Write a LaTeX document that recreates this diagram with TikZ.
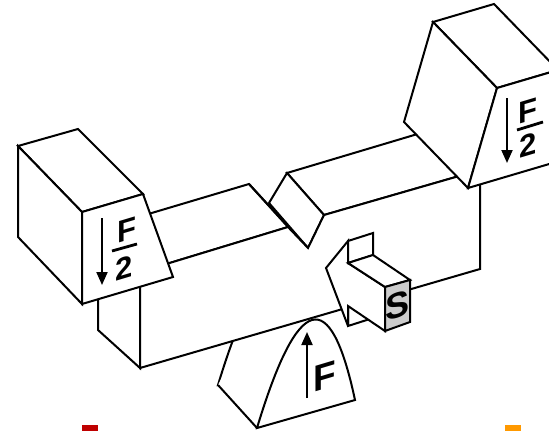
\documentclass[tikz,border=0pt]{standalone}
\usepackage{fontspec}
\setmainfont{Liberation Sans}
\usetikzlibrary{arrows.meta}
\begin{document}
\begin{tikzpicture}[x=1pt,y=-1pt,
  edge/.style={line width=2pt,line join=miter,miter limit=4},
  face/.style={edge,fill=white},
  force/.style={line width=2pt,-{Triangle[length=13pt,width=11pt]}},
  lbl/.style={font=\bfseries\fontsize{31}{31}\selectfont,inner sep=0pt,yslant=0.3},
  biglbl/.style={lbl,font=\bfseries\fontsize{37}{37}\selectfont},
  slbl/.style={lbl,font=\bfseries\fontsize{36}{36}\selectfont},
  fracbar/.style={line width=2.8pt}]
\useasboundingbox (0,0) rectangle (549,431);
\clip (0,0) rectangle (549,431);

% ---------- support prism (parabolic arch) ----------
\coordinate (pBL) at (257,428);
\coordinate (pBR) at (355,400);
\coordinate (qBL) at (218,385);
\coordinate (qBR) at (316,357);
\draw[face] (qBL) .. controls (258.7,250.3) and (291.3,241) .. (qBR) -- cycle;
\fill[white] (qBL) -- (pBL) -- (312,320) -- (273,277) -- cycle;
\draw[face] (pBL) .. controls (297.7,293.3) and (330.3,284) .. (pBR) -- cycle;
\draw[edge] (qBL) -- (pBL);

% ---------- notched beam ----------
\coordinate (P1) at (249,184);
\coordinate (P2) at (269,203);
\coordinate (P3) at (288,227);
\coordinate (P4) at (308,248);
\coordinate (P5) at (287,173);
\coordinate (P6) at (324,215);
\coordinate (bTL) at (140,272);
\coordinate (bTR) at (480,170);
\coordinate (bBR) at (480,269);
\coordinate (bBL) at (140,368);
\coordinate (kTL) at (98,229);
\coordinate (kBL) at (98,330);
\coordinate (kTR) at (441,127);
% top faces
\draw[face] (kTL) -- (P1) -- (P3) -- (bTL) -- cycle;
\draw[face] (P5) -- (kTR) -- (bTR) -- (P6) -- cycle;
% notch flank
\draw[face] (P2) -- (P5) -- (P6) -- (P4) -- cycle;
\draw[edge] (P1) -- (P4);
% left end face
\draw[face] (kTL) -- (bTL) -- (bBL) -- (kBL) -- cycle;
% front face
\draw[face] (bTL) -- (P3) -- (P4) -- (P6) -- (bTR) -- (bBR) -- (bBL) -- cycle;

% ---------- left load block ----------
\coordinate (lA) at (18,146);
\coordinate (lB) at (78,129);
\coordinate (lC) at (143,194);
\coordinate (lD) at (82,212);
\coordinate (lE) at (82,304);
\coordinate (lF) at (173,277);
\coordinate (lG) at (18,237);
\draw[face] (lA) -- (lB) -- (lC) -- (lD) -- cycle;
\draw[face] (lA) -- (lD) -- (lE) -- (lG) -- cycle;
\draw[face] (lD) -- (lC) -- (lF) -- (lE) -- cycle;

% ---------- right load block ----------
\coordinate (rA) at (433,22);
\coordinate (rB) at (494,4);
\coordinate (rC) at (558,70);
\coordinate (rD) at (497,88);
\coordinate (rE) at (468,188);
\coordinate (rF) at (404,122);
\coordinate (rG) at (558,161.4);
\draw[face] (rA) -- (rB) -- (rC) -- (rD) -- cycle;
\draw[face] (rA) -- (rD) -- (rE) -- (rF) -- cycle;
\draw[face] (rD) -- (rC) -- (rG) -- (rE) -- cycle;

% ---------- striker arrow S ----------
\coordinate (tip) at (326,268);
\coordinate (hT) at (348,241);
\coordinate (hTR) at (373,233);
\coordinate (fl) at (373,255);
\coordinate (sT) at (348,263);
\coordinate (sB) at (348,306);
\coordinate (hB) at (348,326);
\coordinate (sfTL) at (385,287);
\coordinate (sfTR) at (410,280);
\coordinate (sfBR) at (410,322);
\coordinate (sfBL) at (385,331);
\draw[face] (sB) -- (373,299) -- (373,318) -- (hB) -- cycle;
\draw[face] (tip) -- (hT) -- (sT) -- (sfTL) -- (sfBL) -- (sB) -- (hB) -- cycle;
\draw[face] (hT) -- (hTR) -- (fl) -- (sT) -- cycle;
\draw[face] (sT) -- (fl) -- (sfTR) -- (sfTL) -- cycle;
\draw[edge,fill=black!20] (sfTL) -- (sfTR) -- (sfBR) -- (sfBL) -- cycle;
\node[slbl] (sLabel) at (397.5,306) {S};

% ---------- forces ----------
\coordinate (fLa) at (102,218);
\coordinate (fLb) at (102,285);
\draw[force] (fLa) -- (fLb);
\node[lbl] (fL) at (127,230) {F};
\node[lbl] (tL) at (124,268) {2};
\coordinate (barLa) at (112,251);
\coordinate (barLb) at (137,244);
\draw[fracbar] (barLa) -- (barLb);

\coordinate (fRa) at (507,98);
\coordinate (fRb) at (507,163);
\draw[force] (fRa) -- (fRb);
\node[lbl] (fR) at (528,111) {F};
\node[lbl] (tR) at (528.5,145) {2};
\coordinate (barRa) at (517,130);
\coordinate (barRb) at (543,122);
\draw[fracbar] (barRa) -- (barRb);

\coordinate (fBa) at (307,398);
\coordinate (fBb) at (307,332);
\draw[force] (fBa) -- (fBb);
\node[biglbl] (fB) at (325,376) {F};

% ---------- marks along the lower edge ----------
\fill[red!75!black] (82,425) rectangle (98,431);
\fill[orange!80!yellow] (505,425) rectangle (521,431);
\end{tikzpicture}
\end{document}
